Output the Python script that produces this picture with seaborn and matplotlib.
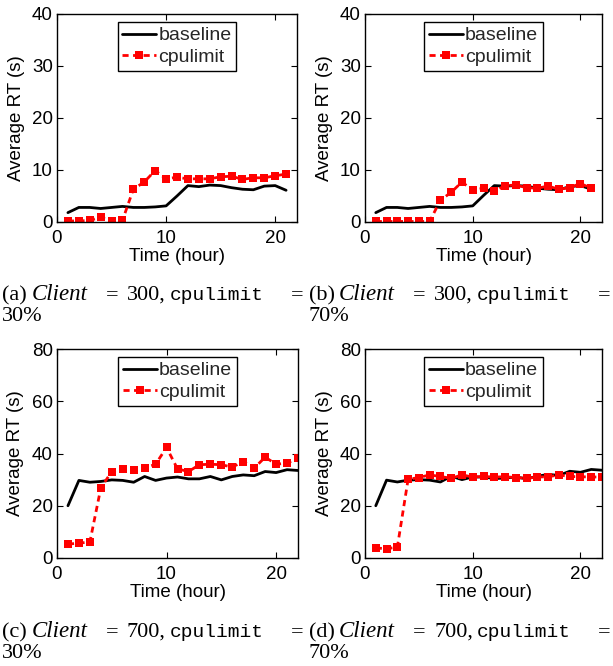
import matplotlib
matplotlib.use("Agg")
import matplotlib.pyplot as plt
import seaborn as sns
import pandas as pd

# ---------------- data ----------------
hours_top = list(range(1, 22))
hours_bot = list(range(1, 23))

baseline_a = [1.8, 2.8, 2.8, 2.6, 2.8, 3.0, 2.8, 2.8, 2.9, 3.1, 5.0, 7.0, 6.8, 7.1, 7.0, 6.6, 6.3, 6.2, 6.9, 7.0, 6.1]
cpulimit_a = [0.2, 0.2, 0.3, 0.9, 0.2, 0.3, 6.3, 7.7, 9.9, 8.3, 8.6, 8.3, 8.3, 8.3, 8.7, 8.8, 8.2, 8.5, 8.5, 8.9, 9.2]

baseline_b = [1.8, 2.8, 2.8, 2.6, 2.8, 3.0, 2.8, 2.8, 2.9, 3.1, 5.1, 7.0, 6.9, 7.0, 6.9, 6.5, 6.3, 6.2, 6.8, 7.0, 6.3]
cpulimit_b = [0.1, 0.1, 0.1, 0.1, 0.1, 0.1, 4.2, 5.7, 7.7, 6.1, 6.5, 5.9, 7.0, 7.1, 6.6, 6.5, 6.9, 6.3, 6.6, 7.4, 6.5]

baseline_c = [20.0, 29.7, 29.0, 29.3, 29.9, 29.7, 29.0, 31.2, 29.7, 30.6, 31.0, 30.3, 30.3, 31.2, 29.9, 31.2, 31.8, 31.5, 33.1, 32.7, 33.8, 33.5]
cpulimit_c = [5.3, 5.7, 6.1, 26.8, 33.1, 34.0, 33.8, 34.4, 35.9, 42.3, 34.1, 33.1, 35.7, 35.9, 35.7, 34.8, 36.9, 34.4, 38.6, 35.9, 36.3, 38.2]

baseline_d = [20.0, 29.8, 29.1, 29.8, 30.0, 29.8, 29.1, 31.3, 30.0, 31.0, 31.0, 30.4, 30.6, 31.0, 30.3, 31.3, 32.0, 31.6, 33.2, 32.8, 33.9, 33.6]
cpulimit_d = [3.8, 3.6, 4.1, 30.1, 30.8, 31.8, 31.2, 30.5, 31.8, 31.0, 31.2, 31.0, 31.1, 30.8, 30.5, 31.0, 31.1, 31.8, 31.2, 31.1, 31.0, 31.0]

series_names = ["baseline", "cpulimit"]
yticks_top = [0, 10, 20, 30, 40]
yticks_bot = [0, 20, 40, 60, 80]
xticks = [0, 10, 20]
xlabel = "Time (hour)"
ylabel = "Average RT (s)"

captions = [
    ("(a)", "300", "30%"),
    ("(b)", "300", "70%"),
    ("(c)", "700", "30%"),
    ("(d)", "700", "70%"),
]

# ---------------- style ----------------
sns.set_theme(style="white")
plt.rcParams["font.family"] = ["Liberation Sans", "DejaVu Sans"]

W, H = 613, 666
fig = plt.figure(figsize=(W / 100, H / 100), dpi=100)

def px_axes(left, top, right, bottom):
    return fig.add_axes([left / W, 1 - bottom / H, (right - left) / W, (bottom - top) / H])

panels = [
    (px_axes(57, 14, 297, 222), hours_top, baseline_a, cpulimit_a, yticks_top),
    (px_axes(365, 14, 602, 222), hours_top, baseline_b, cpulimit_b, yticks_top),
    (px_axes(57, 349, 298, 558), hours_bot, baseline_c, cpulimit_c, yticks_bot),
    (px_axes(365, 349, 602, 558), hours_bot, baseline_d, cpulimit_d, yticks_bot),
]

for ax, hrs, base, cpu, yt in panels:
    df = pd.DataFrame({"hour": hrs, series_names[0]: base, series_names[1]: cpu})
    sns.lineplot(data=df, x="hour", y=series_names[0], ax=ax, color="black",
                 linewidth=2.0, label=series_names[0])
    sns.lineplot(data=df, x="hour", y=series_names[1], ax=ax, color="#ff0000",
                 linewidth=2.0, linestyle="--", marker="s", markersize=5.8,
                 markeredgewidth=0, label=series_names[1])
    ax.lines[-1].set_dashes([2.2, 1.6])
    ax.set_xlim(0, 22)
    ax.set_ylim(yt[0], yt[-1])
    ax.set_xticks(xticks)
    ax.set_yticks(yt)
    for s in ax.spines.values():
        s.set_visible(True)
        s.set_color("black")
        s.set_linewidth(1.0)
    ax.tick_params(direction="in", length=4, width=0.8, colors="black",
                   labelsize=13.5, top=True, right=True, bottom=True, left=True)
    ax.tick_params(axis="x", pad=6)
    ax.tick_params(axis="y", pad=3)
    ax.set_xlabel(xlabel, fontsize=13.5, color="black")
    ax.set_ylabel(ylabel, fontsize=13.5, color="black")
    ax.xaxis.set_label_coords(0.5, -0.125)
    ax.yaxis.set_label_coords(-0.135, 0.5)
    leg = ax.legend(loc="upper center", bbox_to_anchor=(0.5, 0.962),
                    fontsize=14, frameon=True, fancybox=False, framealpha=1,
                    edgecolor="black", handlelength=1.75, handletextpad=0.1,
                    labelspacing=0.2, borderpad=0.25, borderaxespad=0)
    leg.get_frame().set_linewidth(1.0)

# ---------------- captions ----------------
serif = ["Liberation Serif", "DejaVu Serif"]
mono = ["Liberation Mono", "DejaVu Sans Mono"]
offsets = [(0, 300), (307, 300), (0, 637), (307, 637)]
for (lab, client, pct), (dx, yb) in zip(captions, offsets):
    y1 = 1 - yb / H
    y2 = 1 - (yb + 21) / H
    kw = dict(va="baseline", ha="left", color="black")
    fig.text((2 + dx) / W, y1, lab, family=serif, fontsize=16, **kw)
    fig.text((32 + dx) / W, y1, "Client", family=serif, style="italic", fontsize=16.5, **kw)
    fig.text((106 + dx) / W, y1, "=", family=serif, fontsize=16, **kw)
    fig.text((127 + dx) / W, y1, client + ",", family=serif, fontsize=16, **kw)
    fig.text((170 + dx) / W, y1, "cpulimit", family=mono, fontsize=14, **kw)
    fig.text((291 + dx) / W, y1, "=", family=serif, fontsize=16, **kw)
    fig.text((2 + dx) / W, y2, pct, family=serif, fontsize=16, **kw)

fig.savefig("out.png", dpi=100)
